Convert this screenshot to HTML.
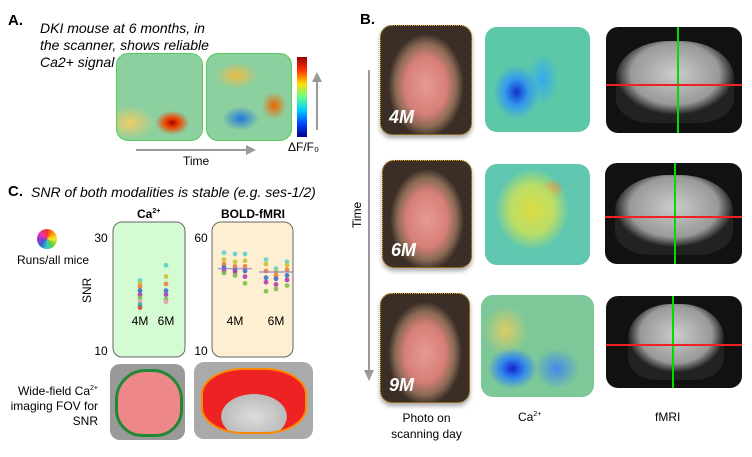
<!DOCTYPE html>
<html><head><meta charset="utf-8"><style>
body{margin:0;background:#fff;width:752px;height:457px;overflow:hidden;position:relative;font-family:"Liberation Sans",sans-serif;color:#000}
.abs{position:absolute}
.lbl{font-weight:bold;font-size:15px}
.it{font-style:italic;font-size:14px;line-height:17px}
.photo{position:absolute;border:1.5px dotted #e8a317;border-radius:12px;background:radial-gradient(ellipse 42% 48% at 50% 55%,#e69a94 0%,#d77f78 55%,#8a6a55 80%,#3a2e26 100%);box-shadow:0 3px 5px rgba(0,0,0,.35);overflow:hidden}
.photo span{position:absolute;left:8px;bottom:6px;color:#fff;font-weight:bold;font-style:italic;font-size:18px}
.ca{position:absolute;border-radius:12px;overflow:hidden}
.mri{position:absolute;border-radius:12px;background:#111;overflow:hidden}
</style></head><body>
<div class="abs lbl" style="left:8px;top:12px">A.</div>
<div class="abs it" style="left:40px;top:20px">DKI mouse at 6 months, in<br>the scanner, shows reliable<br>Ca2+ signal</div>
<div class="ca" style="left:116px;top:53px;width:85px;height:86px;border:1px solid #5c5;background:radial-gradient(ellipse 20% 14% at 65% 80%,#a00 0%,#e40 40%,transparent 100%),radial-gradient(ellipse 30% 20% at 15% 80%,#ec6 0%,transparent 100%),#8cd0a0"></div>
<div class="ca" style="left:206px;top:53px;width:84px;height:86px;border:1px solid #5c5;background:radial-gradient(ellipse 22% 14% at 40% 75%,#27d 0%,transparent 100%),radial-gradient(ellipse 15% 16% at 80% 60%,#e60 0%,transparent 100%),radial-gradient(ellipse 25% 15% at 35% 25%,#eb4 0%,transparent 100%),#8cd0a0"></div>
<div class="abs" style="left:297px;top:57px;width:10px;height:80px;background:linear-gradient(#900,#f30,#fd0,#6f8,#0cf,#04f,#008)"></div>
<svg class="abs" style="left:0;top:0" width="752" height="457">
<line x1="136" y1="150" x2="248" y2="150" stroke="#999" stroke-width="2"/><polygon points="256,150 246,145 246,155" fill="#999"/>
<line x1="317" y1="130" x2="317" y2="80" stroke="#999" stroke-width="2"/><polygon points="317,72 312,82 322,82" fill="#999"/>
<line x1="369" y1="70" x2="369" y2="372" stroke="#999" stroke-width="2"/><polygon points="369,381 364,370 374,370" fill="#999"/>
</svg>
<div class="abs" style="left:288px;top:140px;font-size:12px">ΔF/F₀</div>
<div class="abs" style="left:183px;top:154px;font-size:12px">Time</div>

<div class="abs lbl" style="left:8px;top:183px">C.</div>
<div class="abs it" style="left:31px;top:184px">SNR of both modalities is stable (e.g. ses-1/2)</div>
<div class="abs" style="left:137px;top:207px;font-size:12px;font-weight:bold">Ca<sup style="font-size:7px">2+</sup></div>
<div class="abs" style="left:221px;top:207px;font-size:12px;font-weight:bold">BOLD-fMRI</div>
<div class="abs" style="left:37px;top:229px;width:20px;height:20px;border-radius:50%;background:conic-gradient(#e33,#f90,#ee3,#6c3,#3cc,#36c,#93c,#e3a,#e33)"></div>
<div class="abs" style="left:17px;top:253px;font-size:12px">Runs/all mice</div>
<div class="abs" style="left:80px;top:303px;font-size:12px;transform:rotate(-90deg);transform-origin:left top">SNR</div>
<svg id="snr" class="abs" style="left:0;top:0" width="340" height="370"></svg>
<div class="abs" style="left:8px;top:381px;font-size:12px;text-align:right;width:90px;line-height:15px">Wide-field Ca<sup style="font-size:7px">2+</sup> imaging FOV for SNR</div>
<div class="abs" style="left:110px;top:364px;width:75px;height:76px;border-radius:10px;background:#999;overflow:hidden"><div style="position:absolute;left:5px;top:5px;width:62px;height:62px;border:3px solid #283;border-radius:45% 45% 40% 40%;background:#e88"></div></div>
<div class="abs" style="left:194px;top:362px;width:119px;height:77px;border-radius:10px;background:#aaa;overflow:hidden"><div style="position:absolute;left:7px;top:6px;width:102px;height:62px;border:2px solid #f80;border-radius:40%;background:radial-gradient(ellipse 40% 45% at 50% 75%,#ddd 0%,#bbb 80%,#e22 81%)"></div></div>

<div class="abs lbl" style="left:360px;top:11px">B.</div>
<div class="abs" style="left:350px;top:228px;font-size:12px;transform:rotate(-90deg);transform-origin:left top">Time</div>
<div class="photo" style="left:380px;top:25px;width:90px;height:108px"><span>4M</span></div>
<div class="photo" style="left:382px;top:160px;width:88px;height:106px"><span>6M</span></div>
<div class="photo" style="left:380px;top:293px;width:88px;height:108px"><span>9M</span></div>
<div class="ca" style="left:485px;top:27px;width:105px;height:105px;background:radial-gradient(ellipse 22% 26% at 30% 62%,#13c 0%,#39e 50%,transparent 100%),radial-gradient(ellipse 15% 25% at 55% 50%,#3ae 0%,transparent 100%),#5cc8a8"></div>
<div class="ca" style="left:485px;top:164px;width:105px;height:101px;background:radial-gradient(ellipse 35% 40% at 45% 45%,#dd4 0%,#bd6 60%,transparent 100%),radial-gradient(ellipse 12% 10% at 63% 25%,#e63 0%,transparent 100%),#60c8b0"></div>
<div class="ca" style="left:481px;top:295px;width:113px;height:102px;background:radial-gradient(ellipse 22% 20% at 28% 72%,#12c 0%,#38e 50%,transparent 100%),radial-gradient(ellipse 20% 20% at 67% 72%,#48e 0%,transparent 100%),radial-gradient(ellipse 20% 25% at 22% 35%,#dc6 0%,transparent 100%),#7cc898"></div>
<div class="mri" style="left:606px;top:27px;width:136px;height:106px"><div style="position:absolute;left:10px;top:14px;width:118px;height:82px;border-radius:45% 45% 30% 30%;background:radial-gradient(ellipse 50% 50% at 50% 40%,#ccc,#999 75%,#222 100%)"></div><div style="position:absolute;left:71px;top:0;width:2px;height:106px;background:#0d0"></div><div style="position:absolute;left:0;top:57px;width:136px;height:2px;background:#e22"></div></div>
<div class="mri" style="left:605px;top:163px;width:137px;height:101px"><div style="position:absolute;left:10px;top:12px;width:118px;height:80px;border-radius:45% 45% 30% 30%;background:radial-gradient(ellipse 50% 50% at 50% 40%,#ccc,#999 75%,#222 100%)"></div><div style="position:absolute;left:69px;top:0;width:2px;height:101px;background:#0d0"></div><div style="position:absolute;left:0;top:53px;width:137px;height:2px;background:#e22"></div></div>
<div class="mri" style="left:606px;top:296px;width:136px;height:92px"><div style="position:absolute;left:22px;top:8px;width:96px;height:76px;border-radius:45% 45% 30% 30%;background:radial-gradient(ellipse 50% 50% at 50% 40%,#ccc,#999 75%,#222 100%)"></div><div style="position:absolute;left:66px;top:0;width:2px;height:92px;background:#0d0"></div><div style="position:absolute;left:0;top:48px;width:136px;height:2px;background:#e22"></div></div>
<div class="abs" style="left:380px;top:410px;width:93px;text-align:center;font-size:12px;line-height:16px">Photo on scanning day</div>
<div class="abs" style="left:518px;top:410px;font-size:12px">Ca<sup style="font-size:7px">2+</sup></div>
<div class="abs" style="left:655px;top:410px;font-size:12px">fMRI</div>

<script>
const caCategories=["4M","6M"];
const caSnr4M=[22.3,21.8,21.2,20.5,19.8,19.2,18.6,18.0,17.5];
const caSnr6M=[25.0,23.0,21.7,20.5,19.8,19.0,18.5];
const boldCategories=["4M","6M"];
const bold4Ma=[53,50,48,46.5,45,44];
const bold4Mb=[52.5,49,47,45.5,44.5,43];
const bold4Mc=[52.5,49.5,47,45,42.5,39.5];
const bold6Ma=[50,48,45,42,40,36];
const bold6Mb=[46,44.5,43,41.5,39,37];
const bold6Mc=[49,47.5,45.5,43,41,38.5];
const boldMeans=[46,44.5];
const caTicks=[30,10];
const boldTicks=[60,10];
const colors=["#5cc","#cb3","#e73","#36c","#a3a","#7b4","#e9a","#2aa","#c43"];
const NS='http://www.w3.org/2000/svg';
const svg=document.getElementById('snr');
const plotTop=237,plotBot=350;
const yCa=v=>plotBot-(v-10)/(30-10)*(plotBot-plotTop);
const yBold=v=>plotBot-(v-10)/(60-10)*(plotBot-plotTop);
function mk(t,a){const e=document.createElementNS(NS,t);for(const k in a)e.setAttribute(k,a[k]);svg.appendChild(e);return e;}
let r=mk('rect',{x:113,y:222,width:72,height:135,rx:9,fill:'#d5fbd3',stroke:'#666'});


r=mk('rect',{x:212,y:222,width:81,height:135,rx:9,fill:'#fdefd2',stroke:'#666'});


function txt(x,y,s,n){const t=mk('text',{x:x,y:y,'font-size':12,'text-anchor':'middle','font-family':'Liberation Sans'});t.textContent=s;

}
caTicks.forEach(v=>txt(101,yCa(v)+5,v,'ca-y-tick'));
boldTicks.forEach(v=>txt(201,yBold(v)+5,v,'bold-y-tick'));
const caX=[140,166];
caCategories.forEach((c,i)=>txt(caX[i],325,c,'ca-x-label'));
const boldX=[235,276];
boldCategories.forEach((c,i)=>txt(boldX[i],325,c,'bold-x-label'));
function pts(arr,x,yf,name){arr.forEach((v,i)=>{const p=mk('circle',{cx:x,cy:yf(v),r:2.4,fill:colors[i%colors.length],opacity:.85});

});}
pts(caSnr4M,caX[0],yCa,'ca-point-4m');
pts(caSnr6M,caX[1],yCa,'ca-point-6m');
[[bold4Ma,224],[bold4Mb,235],[bold4Mc,245]].forEach(a=>pts(a[0],a[1],yBold,'bold-point-4m'));
[[bold6Ma,266],[bold6Mb,276],[bold6Mc,287]].forEach(a=>pts(a[0],a[1],yBold,'bold-point-6m'));
boldMeans.forEach((m,i)=>{const l=mk('line',{x1:boldX[i]-17,x2:boldX[i]+17,y1:yBold(m),y2:yBold(m),stroke:'#87c',opacity:.7,'stroke-width':1.5});

});
</script>
</body></html>
